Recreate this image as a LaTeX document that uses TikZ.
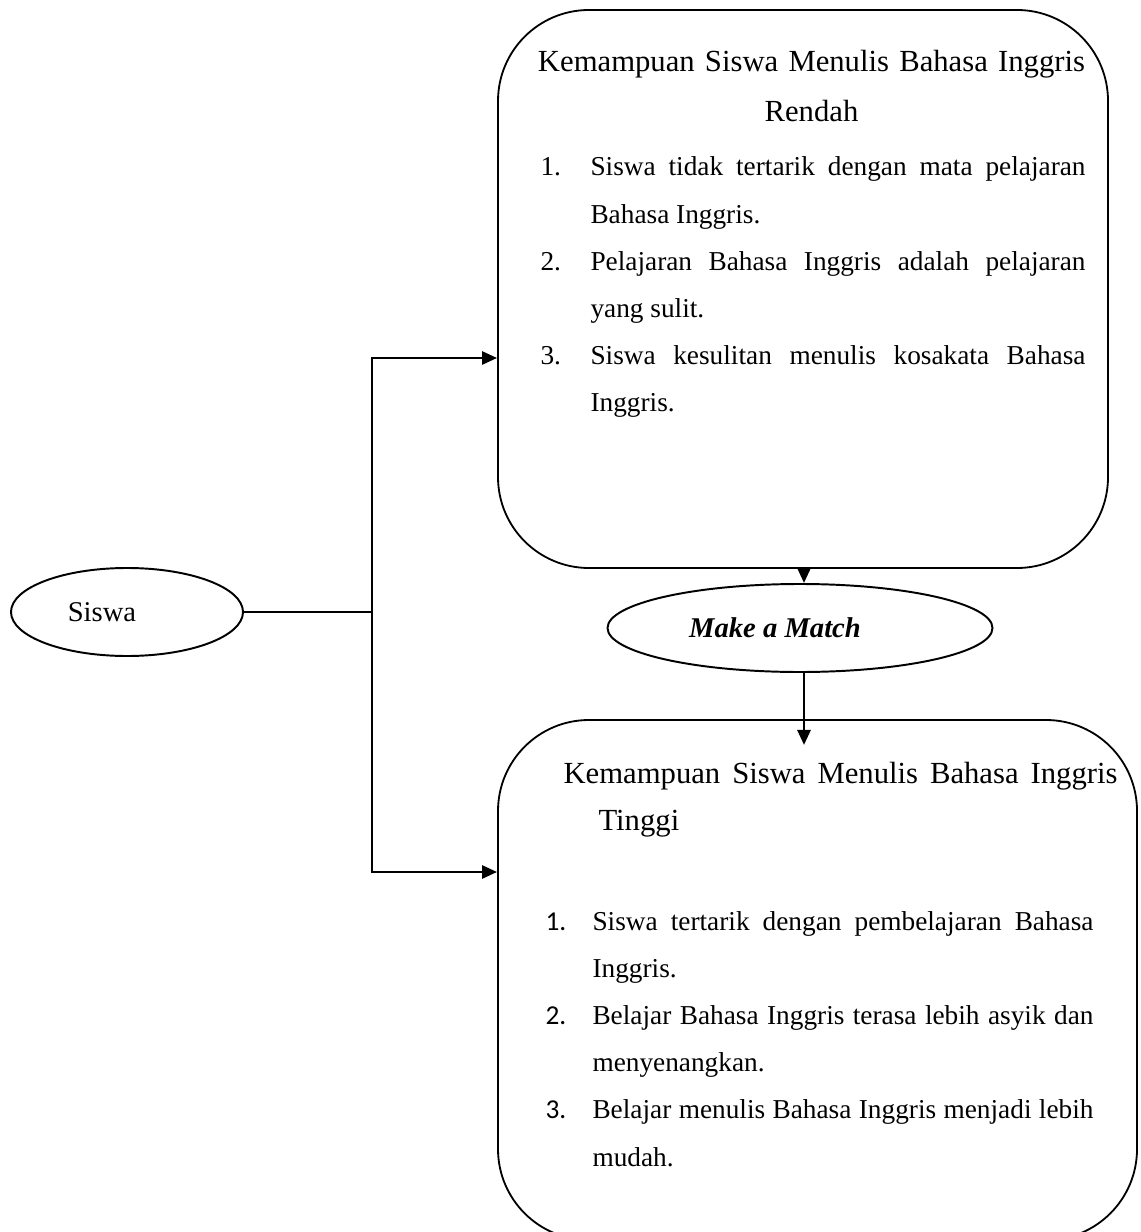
\documentclass[tikz,border=0pt]{standalone}
\usepackage{fontspec}
\setmainfont{Liberation Serif}
\newfontfamily\numfont{Carlito}
\usetikzlibrary{arrows.meta,shapes.geometric}
\newlength\pxu
\setlength\pxu{0.3846pt}

\begin{document}
\begin{tikzpicture}[x=\pxu,y=-\pxu,
  panel/.style={draw,line width=.7pt,rounded corners=35pt,inner sep=0pt},
  oval/.style={draw,ellipse,line width=.75pt,inner sep=0pt,font=\fontsize{11}{13}\selectfont},
  link/.style={line width=1.1pt},
  tolink/.style={link,-{Triangle[length=5.8pt,width=5pt]}},
  head/.style={inner sep=0pt,font=\fontsize{11.8}{19.2}\selectfont},
  listline/.style={inner sep=0pt,anchor=base west,font=\fontsize{10.5}{18.15}\selectfont,text width=#1,align=justify},
  num/.style={inner sep=0pt,anchor=base west,font=\fontsize{10.5}{18.15}\selectfont}]
\useasboundingbox (0,0) rectangle (1140,1232);
\clip (0,0) rectangle (1140,1232);

% boxes and ovals
\node[panel,minimum width=610\pxu,minimum height=558\pxu] (boxlow) at (803,289) {};
\node[panel,minimum width=639\pxu,minimum height=520\pxu] (boxhigh) at (817.5,980) {};
\node[oval,minimum width=232\pxu,minimum height=88\pxu] (siswa) at (127,612) {Siswa\hspace*{50\pxu}};
\node[oval,minimum width=385\pxu,minimum height=88\pxu,font=\fontsize{11}{13}\selectfont\bfseries\itshape] (mam) at (800,628) {Make a Match\hspace*{50\pxu}};

% upper box text
\node[head,text width=560\pxu,align=center,anchor=base] (titlelow) at (811.5,72) {Kemampuan Siswa Menulis Bahasa Inggris\\Rendah};
\node[num] (lownum1) at (540,176) {1.};
\node[listline=495\pxu] (lowitem1) at (590,176) {Siswa tidak tertarik dengan mata pelajaran\linebreak Bahasa Inggris.};
\node[num] (lownum2) at (540,270.4) {2.};
\node[listline=495\pxu] (lowitem2) at (590,270.4) {Pelajaran Bahasa Inggris adalah pelajaran\linebreak yang sulit.};
\node[num] (lownum3) at (540,364.8) {3.};
\node[listline=495\pxu] (lowitem3) at (590,364.8) {Siswa kesulitan menulis kosakata Bahasa\linebreak Inggris.};

% lower box text
\node[head,text width=554\pxu,align=justify,anchor=base west,font=\fontsize{11.8}{18.1}\selectfont] (titlehigh) at (563,783) {Kemampuan Siswa Menulis Bahasa Inggris\linebreak\hspace*{35\pxu}Tinggi};
\node[num,font=\fontsize{10.5}{18.15}\numfont] (highnum1) at (545,930) {1.};
\node[listline=501\pxu] (highitem1) at (592,930) {Siswa tertarik dengan pembelajaran Bahasa\linebreak Inggris.};
\node[num,font=\fontsize{10.5}{18.15}\numfont] (highnum2) at (545,1024.4) {2.};
\node[listline=501\pxu] (highitem2) at (592,1024.4) {Belajar Bahasa Inggris terasa lebih asyik dan\linebreak menyenangkan.};
\node[num,font=\fontsize{10.5}{18.15}\numfont] (highnum3) at (545,1118.8) {3.};
\node[listline=501\pxu] (highitem3) at (592,1118.8) {Belajar menulis Bahasa Inggris menjadi lebih\linebreak mudah.};

% connectors
\coordinate (fork) at (372,612);
\coordinate (forktop) at (372,358);
\coordinate (forkbot) at (372,872);
\coordinate (mamtip) at (804,745);
\draw[link] (siswa.east) -- (fork);
\draw[tolink] (fork) -- (forktop) -- (forktop -| boxlow.west);
\draw[tolink] (fork) -- (forkbot) -- (forkbot -| boxhigh.west);
\draw[tolink] (boxlow.south -| mamtip) -- (mamtip |- mam.north);
\draw[tolink] (mam.south -| mamtip) -- (mamtip);

\end{tikzpicture}
\end{document}
